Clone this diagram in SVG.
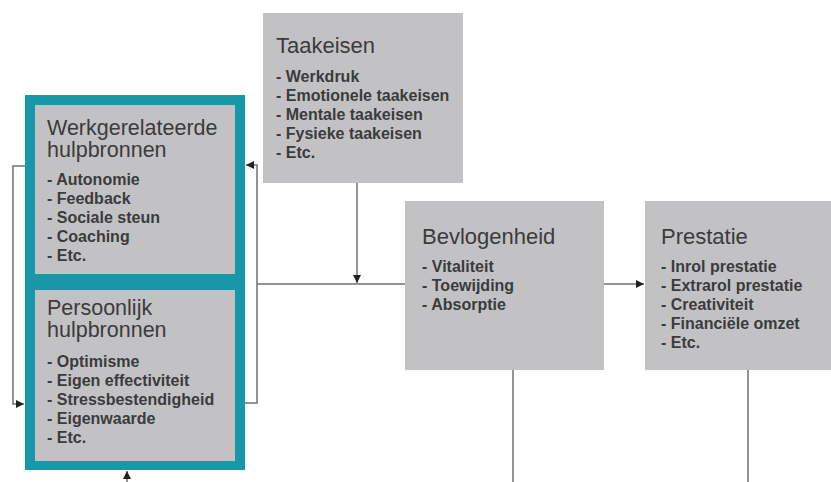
<svg xmlns="http://www.w3.org/2000/svg" width="831" height="482" viewBox="0 0 831 482">
<defs>
<style>
.box{fill:#c2c2c4}
.teal{fill:#1797a7}
.title{font-family:"Liberation Sans",Arial,sans-serif;font-size:22px;fill:#3b3b3d}
.t2{font-size:21.5px}
.item{font-family:"Liberation Sans",Arial,sans-serif;font-size:16px;font-weight:bold;fill:#3b3b3d}
.ln{fill:none;stroke:#707070;stroke-width:1.5}
</style>
<marker id="ah" markerUnits="userSpaceOnUse" markerWidth="9" markerHeight="8" refX="8" refY="4" orient="auto">
<path d="M0,0 L8,4 L0,8 z" fill="#222"/>
</marker>
</defs>
<rect width="831" height="482" fill="#ffffff"/>

<g id="connectors">
<path class="ln" d="M25,166 H13 V404 H24" marker-end="url(#ah)"/>
<path class="ln" d="M245,403 H257 V165 H246" marker-end="url(#ah)"/>
<path class="ln" d="M257,284 H405"/>
<path class="ln" d="M357,183 V283" marker-end="url(#ah)"/>
<path class="ln" d="M604,284 H644" marker-end="url(#ah)"/>
<path class="ln" d="M127,482 V471" marker-end="url(#ah)"/>
<path class="ln" d="M513,370 V482"/>
<path class="ln" d="M748,370 V482"/>
</g>

<g id="taakeisen">
<rect class="box" x="263" y="13" width="200" height="170"/>
<text class="title" x="276" y="53">Taakeisen</text>
<text class="item" x="276" y="82">- Werkdruk</text>
<text class="item" x="276" y="101">- Emotionele taakeisen</text>
<text class="item" x="276" y="120">- Mentale taakeisen</text>
<text class="item" x="276" y="139">- Fysieke taakeisen</text>
<text class="item" x="276" y="158">- Etc.</text>
</g>

<g id="werkgerelateerde">
<rect class="teal" x="25" y="95" width="220" height="188"/>
<rect class="box" x="35" y="105" width="200" height="169"/>
<text class="title t2" x="47" y="135">Werkgerelateerde</text>
<text class="title t2" x="47" y="157">hulpbronnen</text>
<text class="item" x="47" y="185">- Autonomie</text>
<text class="item" x="47" y="204">- Feedback</text>
<text class="item" x="47" y="223">- Sociale steun</text>
<text class="item" x="47" y="242">- Coaching</text>
<text class="item" x="47" y="261">- Etc.</text>
</g>

<g id="persoonlijk">
<rect class="teal" x="25" y="282" width="220" height="188"/>
<rect class="box" x="35" y="290" width="200" height="171"/>
<text class="title t2" x="47" y="315">Persoonlijk</text>
<text class="title t2" x="47" y="337">hulpbronnen</text>
<text class="item" x="47" y="367">- Optimisme</text>
<text class="item" x="47" y="386">- Eigen effectiviteit</text>
<text class="item" x="47" y="405">- Stressbestendigheid</text>
<text class="item" x="47" y="424">- Eigenwaarde</text>
<text class="item" x="47" y="443">- Etc.</text>
</g>

<g id="bevlogenheid">
<rect class="box" x="405" y="201" width="199" height="169"/>
<text class="title" x="422" y="244">Bevlogenheid</text>
<text class="item" x="422" y="272">- Vitaliteit</text>
<text class="item" x="422" y="291">- Toewijding</text>
<text class="item" x="422" y="310">- Absorptie</text>
</g>

<g id="prestatie">
<rect class="box" x="645" y="201" width="186" height="169"/>
<text class="title" x="661" y="244">Prestatie</text>
<text class="item" x="661" y="272">- Inrol prestatie</text>
<text class="item" x="661" y="291">- Extrarol prestatie</text>
<text class="item" x="661" y="310">- Creativiteit</text>
<text class="item" x="661" y="329">- Financiële omzet</text>
<text class="item" x="661" y="348">- Etc.</text>
</g>
</svg>
